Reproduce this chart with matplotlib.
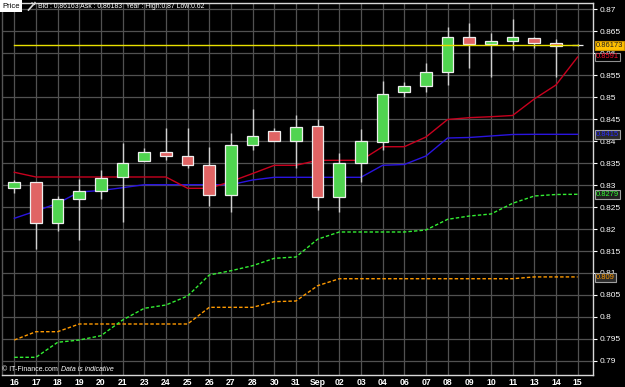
import matplotlib
matplotlib.use("Agg")
import matplotlib.pyplot as plt
from matplotlib.lines import Line2D
import numpy as np

# ---- data ----
dates = ["16", "17", "18", "19", "20", "21", "23", "24", "25", "26", "27", "28", "30", "31",
         "Sep", "02", "03", "04", "06", "07", "08", "09", "10", "11", "13", "14", "15"]
opens = [0.82939, 0.83061, 0.82130, 0.82682, 0.82868, 0.83175, 0.83539, 0.83743, 0.83666,
         0.83455, 0.82773, 0.83909, 0.84220, 0.83990, 0.84341, 0.82720, 0.83493, 0.83984,
         0.85107, 0.85257, 0.85561, 0.86370, 0.86195, 0.86266, 0.86341, 0.86220, 0.86173]
closes = [0.83061, 0.82130, 0.82682, 0.82868, 0.83166, 0.83493, 0.83743, 0.83666, 0.83455,
          0.82773, 0.83909, 0.84114, 0.83990, 0.84325, 0.82720, 0.83493, 0.84000, 0.85068,
          0.85257, 0.85575, 0.86370, 0.86195, 0.86266, 0.86357, 0.86220, 0.86165, 0.86173]
highs = [0.83114, 0.83070, 0.82750, 0.83136, 0.83341, 0.83961, 0.83848, 0.84300, 0.84289,
         0.83870, 0.84175, 0.84720, 0.84289, 0.84591, 0.84493, 0.83734, 0.84273, 0.85364,
         0.85334, 0.85780, 0.86598, 0.86689, 0.86448, 0.86766, 0.86370, 0.86318, 0.86200]
lows = [0.82811, 0.81545, 0.81961, 0.81750, 0.82682, 0.82166, 0.83540, 0.83568, 0.83380,
        0.82523, 0.82393, 0.83795, 0.83990, 0.83380, 0.82432, 0.82393, 0.83075, 0.83795,
        0.85007, 0.85107, 0.85273, 0.85652, 0.85448, 0.86068, 0.86114, 0.85448, 0.86150]

red_line = [0.83289, 0.83182, 0.83182, 0.83182, 0.83182, 0.83182, 0.83182, 0.83182, 0.82925,
            0.82925, 0.83080, 0.83261, 0.83448, 0.83448, 0.83561, 0.83561, 0.83561, 0.83870,
            0.83870, 0.84091, 0.84489, 0.84530, 0.84552, 0.84580, 0.84955, 0.85273, 0.85909]
blue_line = [0.82243, 0.82409, 0.82584, 0.82841, 0.82875, 0.82939, 0.83007, 0.83007, 0.83007,
             0.83007, 0.83007, 0.83114, 0.83175, 0.83175, 0.83175, 0.83175, 0.83175, 0.83448,
             0.83466, 0.83659, 0.84068, 0.84080, 0.84114, 0.84148, 0.84152, 0.84152, 0.84152]
green_line = [0.79084, 0.79084, 0.79425, 0.79477, 0.79575, 0.79932, 0.80198, 0.80273, 0.80477,
              0.80955, 0.81052, 0.81166, 0.81334, 0.81364, 0.81768, 0.81932, 0.81932, 0.81932,
              0.81932, 0.81977, 0.82220, 0.82295, 0.82341, 0.82584, 0.82750, 0.82784, 0.82789]
orange_line = [0.79477, 0.79666, 0.79666, 0.79841, 0.79841, 0.79841, 0.79841, 0.79841, 0.79841,
               0.80220, 0.80220, 0.80220, 0.80348, 0.80364, 0.80711, 0.80870, 0.80870, 0.80870,
               0.80870, 0.80870, 0.80870, 0.80870, 0.80870, 0.80870, 0.80911, 0.80911, 0.80911]
last_price = 0.86173

ytick_values = [0.79, 0.795, 0.8, 0.805, 0.81, 0.815, 0.82, 0.825, 0.83, 0.835, 0.84, 0.845,
                0.85, 0.855, 0.86, 0.865, 0.87]
ytick_labels = ["0.79", "0.795", "0.8", "0.805", "0.81", "0.815", "0.82", "0.825", "0.83",
                "0.835", "0.84", "0.845", "0.85", "0.855", "0.86", "0.865", "0.87"]

marker_values = [0.86173, 0.8591, 0.8415, 0.8279, 0.809]
marker_labels = ["0.86173", "0.8591", "0.8415", "0.8279", "0.809"]

header_text = "Bid : 0.86163 Ask : 0.86183  Year : High:0.87 Low:0.62"

# ---- figure ----
W, H = 625, 387
fig = plt.figure(figsize=(W / 100, H / 100), dpi=100, facecolor="black")
ax = fig.add_axes([2 / W, 1 - 375 / H, (593 - 2) / W, (375 - 3) / H])
ax.set_facecolor("black")

x = np.arange(len(dates))
GREEN = "#50d450"
RED = "#e06464"

ax.set_xlim(-0.568, 26.71)
ax.set_ylim(0.786818, 0.871364)

# grid
ax.set_axisbelow(True)
ax.grid(True, color="#515151", lw=0.9)

# indicator lines
ax.plot(x, orange_line, color="#ff9a00", lw=1.0, ls=(0, (2.5, 1.5)), zorder=2)
ax.plot(x, green_line, color="#33ee33", lw=1.0, ls=(0, (2.5, 1.5)), zorder=2)
ax.plot(x, blue_line, color="#2a14e0", lw=1.0, zorder=2.2)
ax.plot(x, red_line, color="#c8001e", lw=1.0, zorder=2.3)

# candles
o = np.array(opens); c = np.array(closes); h = np.array(highs); l = np.array(lows)
ax.vlines(x, l, h, color="#cfcfcf", lw=1.0, zorder=3)
up = c >= o
colors = [GREEN if u else RED for u in up]
bottoms = np.minimum(o, c)
heights = np.maximum(np.abs(c - o), 0.00004)
ax.bar(x, heights, bottom=bottoms, width=0.54, color=colors, edgecolor="#eeeeee",
       linewidth=0.9, zorder=4)

# last price line
ax.plot([x[0], x[-1]], [last_price, last_price], color="#e8e000", lw=1.0, zorder=5)

# axes styling
for s in ["top", "bottom", "left", "right"]:
    ax.spines[s].set_color("#d8d8d8")
    ax.spines[s].set_linewidth(1.0)
ax.spines["left"].set_color("#555555")
ax.set_xticks(x)
ax.set_xticklabels(dates, fontfamily="Liberation Sans", fontweight="bold", fontsize=6.2,
                   color="white")
ax.tick_params(axis="x", length=0, pad=2.5)
ax.yaxis.tick_right()
ax.set_yticks(ytick_values)
ax.set_yticklabels(ytick_labels, fontfamily="Liberation Sans", fontsize=6, color="white")
ax.tick_params(axis="y", length=3, width=0.8, color="white", pad=1.5)

# right-side value markers
box_styles = [
    dict(fc="#ffc000", ec="#c89000", tc="#202020"),
    dict(fc="#000000", ec="#909090", tc="#ff1030"),
    dict(fc="#2a2a2a", ec="#a0a0a0", tc="#2a2aff"),
    dict(fc="#1e1e1e", ec="#a0a0a0", tc="#33ff33"),
    dict(fc="#2a2a2a", ec="#a0a0a0", tc="#ff9a00"),
]
for val, lab, st in zip(marker_values, marker_labels, box_styles):
    ax.text(1.005, val, lab, transform=ax.get_yaxis_transform(), ha="left", va="center",
            fontsize=5.4, fontfamily="Liberation Sans", color=st["tc"], clip_on=False,
            zorder=10,
            bbox=dict(boxstyle="square,pad=0.12", fc=st["fc"], ec=st["ec"], lw=0.8))

# header
fig.patches.append(plt.Rectangle((0, 1 - 11.7 / H), 21.7 / W, 11.7 / H, transform=fig.transFigure,
                                 fc="white", ec="none", zorder=10))
fig.text(2 / W, 1 - 6.5 / H, "Price", fontsize=5.5, fontfamily="Liberation Sans",
         color="black", va="center", ha="left", zorder=11)
# small wrench glyph
fig.add_artist(Line2D([28.5 / W, 33 / W], [1 - 10 / H, 1 - 5 / H], color="#dddddd", lw=1.2,
                      transform=fig.transFigure))
fig.add_artist(Line2D([32 / W, 34.5 / W, 35 / W], [1 - 3 / H, 1 - 4.5 / H, 1 - 2.5 / H],
                      color="#dddddd", lw=1.0, transform=fig.transFigure))
fig.text(38 / W, 1 - 6.5 / H, header_text, fontsize=4.95, fontfamily="Liberation Sans",
         color="white", va="center", ha="left", zorder=11)

# footer watermark
fig.text(2 / W, 1 - 369.5 / H, "© IT-Finance.com", fontsize=5.0, fontfamily="Liberation Sans",
         color="white", va="center", ha="left")
fig.text(61 / W, 1 - 369.5 / H, "Data is indicative", fontsize=5.0, fontfamily="Liberation Sans",
         style="italic", color="white", va="center", ha="left")

fig.savefig("out.png", dpi=100, facecolor="black")
